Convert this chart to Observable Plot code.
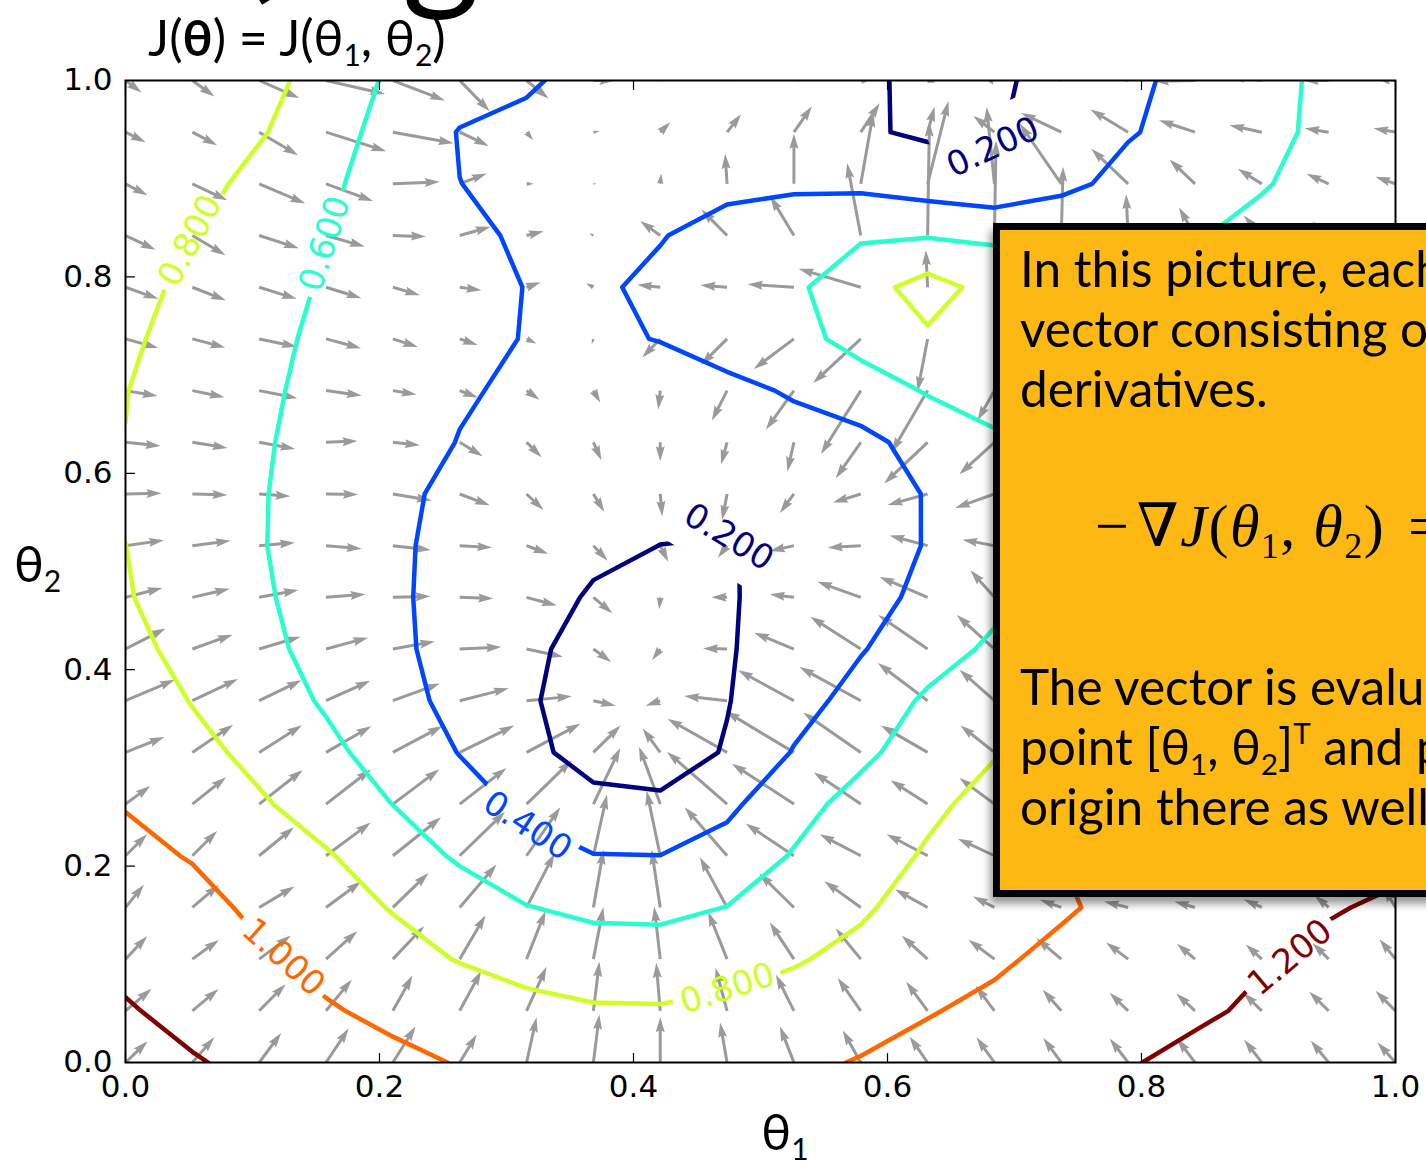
<!DOCTYPE html>
<html><head><meta charset="utf-8">
<script src="https://cdn.jsdelivr.net/npm/d3@7"></script>
<script src="https://cdn.jsdelivr.net/npm/@observablehq/plot@0.6"></script>
<style>
html,body{margin:0;padding:0;background:#fff;}
body{width:1426px;height:1162px;overflow:hidden;position:relative;}
#chart{position:absolute;left:0;top:0;}
.t{position:absolute;white-space:nowrap;color:#000;}
.slide{font-family:"Lato","Noto Sans",sans-serif;}
.box{position:absolute;left:993px;top:223px;width:540px;height:660px;background:#fdb813;border:7px solid #000;box-shadow:-3px 7px 8px rgba(0,0,0,.4);}
.bl{font-size:49.5px;line-height:60px;left:1020px;}
.sb{font-size:0.6em;position:relative;top:0.32em;}
.sp{font-size:0.6em;position:relative;top:-0.7em;}
.math{font-family:"Liberation Serif","DejaVu Serif",serif;font-size:60px;line-height:64px;left:1095px;top:494px;letter-spacing:1.5px;}
.math i{font-style:italic;}
</style></head><body>
<div id="chart"></div>

<div class="t slide" style="font-size:150px;line-height:150px;left:236px;top:-152px;font-weight:700;">(</div>
<div class="t slide" style="font-size:150px;line-height:150px;left:402px;top:-140px;">g</div>
<div class="t slide" style="font-size:50px;line-height:50px;left:148px;top:12px;">J(<b>θ</b>) = J(θ<span class="sb">1</span>, θ<span class="sb">2</span>)</div>

<div class="t slide" style="font-size:50px;line-height:50px;left:785px;top:1106px;transform:translateX(-50%);">θ<span class="sb">1</span></div>
<div class="t slide" style="font-size:50px;line-height:50px;left:14px;top:538px;">θ<span class="sb">2</span></div>

<div class="box"></div>
<div class="t slide bl" style="top:238px;">In this picture, each arrow is the gradient</div>
<div class="t slide bl" style="top:298px;">vector consisting of partial</div>
<div class="t slide bl" style="top:358px;">derivatives.</div>
<div class="t math">−&#8202;∇<i>J</i>(<i>θ</i><span class="sb">1</span>, <i>θ</i><span class="sb">2</span>) &#8202;=</div>
<div class="t slide bl" style="top:656px;">The vector is evaluated at the</div>
<div class="t slide bl" style="top:716px;">point [θ<span class="sb">1</span>, θ<span class="sb">2</span>]<span class="sp">T</span> and plotted with</div>
<div class="t slide bl" style="top:776px;">origin there as well.</div>

<script>
// ---- data ----
const levels = [0.2, 0.4, 0.6, 0.8, 1.0, 1.2];
const levelColors = ["#00007f", "#0046ff", "#29ffce", "#ceff29", "#ff6800", "#7f0000"];
const tickValues = [0, 0.2, 0.4, 0.6, 0.8, 1.0];
const gridSize = 20; // 20 x 20 samples of J on [0,1] x [0,1]

// J(θ1, θ2) sampled on the grid, rows from θ2 = 1 (top) down to θ2 = 0, columns θ1 = 0 .. 1
const costRows = [
  [0.97, 0.93, 0.86, 0.73, 0.565, 0.47, 0.415, 0.36, 0.31, 0.27, 0.24, 0.215, 0.18, 0.175, 0.25, 0.35, 0.47, 0.555, 0.63, 0.68],
  [0.94, 0.89, 0.816, 0.696, 0.515, 0.393, 0.37, 0.36, 0.34, 0.31, 0.27, 0.22, 0.175, 0.185, 0.28, 0.385, 0.468, 0.565, 0.63, 0.685],
  [0.92, 0.865, 0.745, 0.635, 0.51, 0.401, 0.375, 0.365, 0.36, 0.36, 0.37, 0.36, 0.307, 0.256, 0.346, 0.463, 0.53, 0.59, 0.65, 0.70],
  [0.883, 0.808, 0.718, 0.61, 0.525, 0.445, 0.371, 0.36, 0.392, 0.46, 0.52, 0.578, 0.588, 0.569, 0.58, 0.56, 0.59, 0.64, 0.68, 0.72],
  [0.849, 0.767, 0.682, 0.58, 0.505, 0.445, 0.397, 0.375, 0.433, 0.49, 0.566, 0.721, 0.876, 0.73, 0.69, 0.67, 0.67, 0.69, 0.72, 0.75],
  [0.825, 0.743, 0.66, 0.555, 0.485, 0.43, 0.3955, 0.38, 0.404, 0.47, 0.535, 0.67, 0.773, 0.72, 0.70, 0.69, 0.69, 0.70, 0.73, 0.77],
  [0.8037, 0.7237, 0.643, 0.533, 0.465, 0.415, 0.3745, 0.35, 0.34, 0.36, 0.416, 0.50, 0.615, 0.68, 0.70, 0.70, 0.71, 0.73, 0.76, 0.79],
  [0.7977, 0.71, 0.622, 0.53, 0.465, 0.395, 0.35, 0.32, 0.31, 0.32, 0.34, 0.353, 0.465, 0.57, 0.64, 0.66, 0.68, 0.71, 0.76, 0.82],
  [0.785, 0.695, 0.61, 0.539, 0.45, 0.345, 0.30, 0.26, 0.245, 0.25, 0.27, 0.32, 0.409, 0.52, 0.605, 0.63, 0.67, 0.72, 0.78, 0.85],
  [0.801, 0.705, 0.61, 0.527, 0.432, 0.338, 0.27, 0.23, 0.199, 0.19, 0.245, 0.31, 0.41, 0.50, 0.57, 0.61, 0.66, 0.72, 0.80, 0.89],
  [0.812, 0.72, 0.625, 0.524, 0.428, 0.336, 0.26, 0.185, 0.165, 0.19, 0.243, 0.31, 0.46, 0.55, 0.58, 0.62, 0.70, 0.78, 0.86, 0.93],
  [0.848, 0.748, 0.647, 0.542, 0.437, 0.332, 0.229, 0.15, 0.14, 0.19, 0.26, 0.388, 0.512, 0.635, 0.70, 0.76, 0.83, 0.90, 0.96, 0.97],
  [0.915, 0.792, 0.687, 0.581, 0.466, 0.346, 0.221, 0.12, 0.11, 0.1925, 0.324, 0.471, 0.63, 0.72, 0.805, 0.86, 0.91, 0.95, 0.99, 1.02],
  [0.953, 0.856, 0.749, 0.642, 0.523, 0.394, 0.251, 0.125, 0.115, 0.213, 0.412, 0.556, 0.70, 0.79, 0.87, 0.93, 0.98, 1.02, 1.05, 1.07],
  [0.992, 0.93, 0.823, 0.712, 0.598, 0.48, 0.364, 0.254, 0.23, 0.36, 0.53, 0.67, 0.765, 0.855, 0.94, 1.003, 1.05, 1.09, 1.11, 1.12],
  [1.044, 0.99, 0.92, 0.816, 0.697, 0.575, 0.47, 0.406, 0.402, 0.474, 0.614, 0.715, 0.819, 0.92, 1.002, 1.07, 1.12, 1.15, 1.17, 1.17],
  [1.10, 1.054, 0.966, 0.878, 0.79, 0.70, 0.606, 0.56, 0.555, 0.603, 0.691, 0.777, 0.873, 0.94, 0.98, 1.047, 1.10, 1.15, 1.19, 1.22],
  [1.158, 1.104, 1.025, 0.946, 0.869, 0.79, 0.74, 0.695, 0.69, 0.725, 0.785, 0.846, 0.91, 0.975, 1.04, 1.10, 1.15, 1.19, 1.23, 1.27],
  [1.215, 1.15, 1.084, 1.018, 0.955, 0.92, 0.847, 0.82, 0.817, 0.84, 0.875, 0.93, 0.99, 1.037, 1.084, 1.13, 1.177, 1.223, 1.27, 1.32],
  [1.268, 1.213, 1.158, 1.103, 1.045, 0.99, 0.96, 0.94, 0.93, 0.94, 0.965, 1.01, 1.055, 1.10, 1.145, 1.19, 1.237, 1.28, 1.325, 1.37]
];

// inline contour labels: level, position (θ1, θ2) and text angle
const contourLabels = [
  {level: 0.8, t1: 0.051, t2: 0.837, angle: -62},
  {level: 0.6, t1: 0.157, t2: 0.834, angle: -72},
  {level: 0.2, t1: 0.683, t2: 0.932, angle: -25},
  {level: 0.2, t1: 0.475, t2: 0.535, angle: 31},
  {level: 0.4, t1: 0.3165, t2: 0.241, angle: 33},
  {level: 1.0, t1: 0.1244, t2: 0.107, angle: 42},
  {level: 0.8, t1: 0.474, t2: 0.0754, angle: -18},
  {level: 1.2, t1: 0.917, t2: 0.107, angle: -40}
];

// ---- derived tables ----
const n = gridSize;
const half = 0.5 / (n - 1);
const flatTop = costRows.flat();
const G = costRows.slice().reverse(); // G[j][i], j = 0 at θ2 = 0
const arrows = [];
for (let j = 0; j < n; j++) {
  for (let i = 0; i < n; i++) {
    const gi = i === 0 ? G[j][1] - G[j][0] : i === n - 1 ? G[j][n - 1] - G[j][n - 2] : (G[j][i + 1] - G[j][i - 1]) / 2;
    const gj = j === 0 ? G[1][i] - G[0][i] : j === n - 1 ? G[n - 1][i] - G[n - 2][i] : (G[j + 1][i] - G[j - 1][i]) / 2;
    const u = -gi, v = -gj;
    arrows.push({x: i / (n - 1), y: j / (n - 1), len: Math.hypot(u, v), rot: Math.atan2(u, v) * 180 / Math.PI});
  }
}

// matplotlib-like filled quiver arrow
const quiverShape = {
  draw(ctx, l) {
    const sw = 1.5, hw = 4.5, hl = 15, hal = 13.5;
    if (!(l > 0)) return;
    if (l < 3) {
      const r = 1.3;
      for (let k = 0; k < 6; k++) {
        const a = Math.PI / 3 * k;
        if (k === 0) ctx.moveTo(r * Math.cos(a), r * Math.sin(a));
        else ctx.lineTo(r * Math.cos(a), r * Math.sin(a));
      }
      ctx.closePath();
      return;
    }
    if (l < hl) {
      const s = l / hl;
      ctx.moveTo(-sw * s, 0);
      ctx.lineTo(-sw * s, -(hl - hal) * s);
      ctx.lineTo(-hw * s, 0);
      ctx.lineTo(0, -l);
      ctx.lineTo(hw * s, 0);
      ctx.lineTo(sw * s, -(hl - hal) * s);
      ctx.lineTo(sw * s, 0);
      ctx.closePath();
    } else {
      ctx.moveTo(-sw, 0);
      ctx.lineTo(-sw, -(l - hal));
      ctx.lineTo(-hw, -(l - hl));
      ctx.lineTo(0, -l);
      ctx.lineTo(hw, -(l - hl));
      ctx.lineTo(sw, -(l - hal));
      ctx.lineTo(sw, 0);
      ctx.closePath();
    }
  }
};
const tickShape = {draw(ctx, l) { ctx.moveTo(0, 0); ctx.lineTo(0, -l); }};
const labelFont = 34;
const contourWidth = 4.5;

const marks = [];
marks.push(Plot.vector(arrows, {
  x: "x", y: "y", length: "len", rotate: "rot", anchor: "start",
  shape: quiverShape, fill: "#9a9a9a", stroke: "none", clip: true
}));
levels.forEach((lv, k) => {
  marks.push(Plot.contour(flatTop, {
    width: n, height: n, x1: -half, x2: 1 + half, y1: 1 + half, y2: -half,
    value: (d) => d, thresholds: [lv], smooth: true,
    stroke: levelColors[k], fill: "none", strokeWidth: contourWidth, strokeLinejoin: "round", clip: true
  }));
});
levels.forEach((lv, k) => {
  const lab = contourLabels.filter((d) => d.level === lv);
  if (!lab.length) return;
  marks.push(Plot.text(lab, {
    x: "t1", y: "t2", text: (d) => d.level.toFixed(3), rotate: "angle",
    fill: levelColors[k], fontSize: labelFont, fontFamily: "DejaVu Sans"
  }));
});
// inward ticks on all four sides
marks.push(Plot.vector(tickValues, {x: (d) => d, y: 0, length: 9, rotate: 0, anchor: "start", shape: tickShape, stroke: "black", strokeWidth: 1.2}));
marks.push(Plot.vector(tickValues, {x: (d) => d, y: 1, length: 9, rotate: 180, anchor: "start", shape: tickShape, stroke: "black", strokeWidth: 1.2}));
marks.push(Plot.vector(tickValues, {x: 0, y: (d) => d, length: 9, rotate: 90, anchor: "start", shape: tickShape, stroke: "black", strokeWidth: 1.2}));
marks.push(Plot.vector(tickValues, {x: 1, y: (d) => d, length: 9, rotate: -90, anchor: "start", shape: tickShape, stroke: "black", strokeWidth: 1.2}));
marks.push(Plot.frame({stroke: "black", strokeWidth: 2}));

const chart = Plot.plot({
  width: 1426, height: 1162,
  marginLeft: 125, marginRight: 31, marginTop: 80, marginBottom: 100,
  style: {fontFamily: "DejaVu Sans", fontSize: "31px", background: "transparent", color: "black", overflow: "visible"},
  x: {domain: [0, 1], ticks: tickValues, tickFormat: (d) => d.toFixed(1), tickSize: 0, tickPadding: 12, label: null},
  y: {domain: [0, 1], ticks: tickValues, tickFormat: (d) => d.toFixed(1), tickSize: 0, tickPadding: 13, label: null},
  length: {domain: [0, 1], range: [0, 400]},
  marks
});

// break each contour line where its inline labels sit (like matplotlib's clabel inline)
(function addLabelGaps() {
  const ns = "http://www.w3.org/2000/svg";
  const sx = chart.scale("x"), sy = chart.scale("y");
  const defs = document.createElementNS(ns, "defs");
  const groups = chart.querySelectorAll('g[aria-label="contour"]'); // one group per level, in mark order
  levels.forEach((lv, k) => {
    const g = groups[k];
    if (!g) return;
    g.setAttribute("stroke-width", contourWidth);
    g.querySelectorAll("path").forEach((p) => p.setAttribute("stroke-width", contourWidth));
    const lab = contourLabels.filter((d) => d.level === lv);
    if (!lab.length) return;
    const mask = document.createElementNS(ns, "mask");
    mask.setAttribute("id", "gap-" + k);
    mask.setAttribute("maskUnits", "userSpaceOnUse");
    mask.setAttribute("x", 0); mask.setAttribute("y", 0);
    mask.setAttribute("width", 1426); mask.setAttribute("height", 1162);
    const bg = document.createElementNS(ns, "rect");
    bg.setAttribute("x", 0); bg.setAttribute("y", 0);
    bg.setAttribute("width", 1426); bg.setAttribute("height", 1162);
    bg.setAttribute("fill", "white");
    mask.appendChild(bg);
    lab.forEach((d) => {
      const cx = sx.apply(d.t1), cy = sy.apply(d.t2);
      const w = labelFont * 2.862 + 14, h = 70;
      const r = document.createElementNS(ns, "rect");
      r.setAttribute("x", cx - w / 2); r.setAttribute("y", cy - h / 2);
      r.setAttribute("width", w); r.setAttribute("height", h);
      r.setAttribute("fill", "black");
      r.setAttribute("transform", `rotate(${d.angle} ${cx} ${cy})`);
      mask.appendChild(r);
    });
    defs.appendChild(mask);
    g.setAttribute("mask", `url(#gap-${k})`);
  });
  chart.insertBefore(defs, chart.firstChild);
})();

document.getElementById("chart").appendChild(chart);
</script>
</body></html>
